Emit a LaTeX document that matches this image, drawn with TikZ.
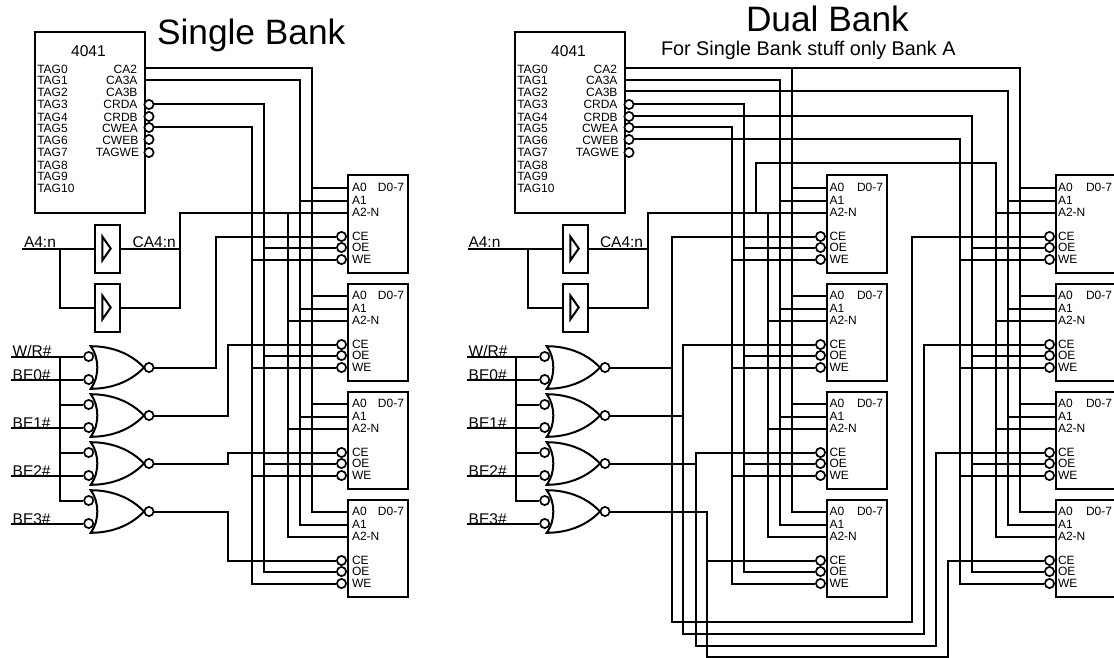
\documentclass[tikz,border=0pt]{standalone}
\usepackage{fontspec}
\setmainfont{Liberation Sans}
\usepackage{tikz}
\usetikzlibrary{positioning}

\begin{document}
\begin{tikzpicture}[x=1pt, y=-1pt, line width=2pt]
	\tikzstyle{Wire}	= [line width=2pt]
	\tikzstyle{Bubble}	= [circle, draw, fill=white, minimum size=9.2pt, inner sep=0pt, line width=1.7pt]
	\tikzstyle{Mem}		= [rectangle, draw, anchor=north west, minimum width=60pt, minimum height=97pt, inner sep=0pt, outer sep=0pt]
	\tikzstyle{Chip}	= [rectangle, draw, anchor=north west, minimum width=110pt, minimum height=180pt, inner sep=0pt, outer sep=0pt]
	\tikzstyle{Buf}		= [rectangle, draw, minimum width=25pt, minimum height=48pt, inner sep=0pt, outer sep=0pt]
	\tikzstyle{MemPin}	= [inner sep=0pt, font=\fontsize{12}{12}\selectfont]
	\tikzstyle{Signal}	= [inner sep=0pt, anchor=base west, font=\fontsize{15.5}{15.5}\selectfont]

	\useasboundingbox (0,0) rectangle (1114,658);

	\node (t-single) at (156,44.3) [inner sep=0pt, anchor=base west, font=\fontsize{35.3}{35.3}\selectfont] {Single Bank};
	\node (t-dual) at (745,31.7) [inner sep=0pt, anchor=base west, font=\fontsize{35.3}{35.3}\selectfont] {Dual Bank};
	\node (t-note) at (660,55.7) [inner sep=0pt, anchor=base west, font=\fontsize{19.8}{19.8}\selectfont] {For Single Bank stuff only Bank A};

	% memory banks
	\foreach \n/\mx/\my/\off in {sa/347.5/175.5/3.5, sb/347.5/283.5/3.5, sc/347.5/391.5/3.5, sd/347.5/499.5/3.5,
			da/826.5/175.5/2, db/826.5/283.5/2, dc/826.5/391.5/2, dd/826.5/499.5/2,
			ea/1055.5/175.5/1.5, eb/1055.5/283.5/1.5, ec/1055.5/391.5/1.5, ed/1055.5/499.5/1.5} {
		\node (\n) [Mem] at (\mx,\my) {};
		\foreach \s/\l/\o in {a0/A0/12, a1/A1/25, a2/A2-N/37} {
			\coordinate (\n-\s) at ([yshift=-\o pt]\n.north west);
			\node (\n-t\s) [MemPin, right=\off pt of \n-\s] {\l};
		}
		\foreach \s/\l/\o in {ce/CE/61, oe/OE/72, we/WE/84} {
			\coordinate (\n-p\s) at ([yshift=-\o pt]\n.north west);
			\node (\n-t\s) [MemPin, right=\off pt of \n-p\s] {\l};
			\node (\n-\s) [Bubble] at ([xshift=-6pt]\n-p\s) {};
		}
		\coordinate (\n-d7) at (\n.east |- \n-a0);
		\node (\n-td) [MemPin, left=2.5pt of \n-d7] {D0-7};
	}

	% tag chips
	\foreach \p/\px in {s/0, d/480} {
		\node (\p-chip) [Chip] at (34.5+\px,32.5) {};
		\node (\p-name) at (88.5+\px,56.5) [inner sep=0pt, anchor=base, font=\fontsize{15.6}{15.6}\selectfont] {4041};
		\foreach \a/\b in {0/73.3, 1/84.5, 2/96.3, 3/108.7, 4/121.3, 5/132.7, 6/144.3, 7/156.3, 8/169.3, 9/180.3, 10/192.3} {
			\node (\p-tag\a) at (36.3+\px,\b) [MemPin, anchor=base west] {TAG\a};
		}
		\foreach \s/\l/\b/\e in {ca2/CA2/73.3/138, ca3a/CA3A/84.5/138.5, ca3b/CA3B/96.3/138.5, crda/CRDA/108.7/138.5,
				crdb/CRDB/121.3/138.7, cwea/CWEA/132.7/139, cweb/CWEB/144.3/139.3, tagwe/TAGWE/156.3/140} {
			\node (\p-t\s) at (\e+\px,\b) [MemPin, anchor=base east] {\l};
		}
		\coordinate (\p-ca2) at (144.5+\px,68.5);
		\coordinate (\p-ca3a) at (144.5+\px,80.5);
		\coordinate (\p-ca3b) at (144.5+\px,91.5);
		\foreach \s/\b in {crda/104.5, crdb/116.5, cwea/127.5, cweb/139.5, tagwe/152.5} {
			\node (\p-\s) at (149+\px,\b) [Bubble] {};
		}
	}

	% buffers
	\foreach \p/\px in {s/0, d/468} {
		\node (\p-buf1) at (107+\px,248.5) [Buf] {};
		\node (\p-buf2) at (107+\px,307.5) [Buf] {};
		\foreach \b in {1,2} {
			\draw [Wire] ([xshift=-4.7pt,yshift=12pt]\p-buf\b.center) -- ([xshift=3.7pt]\p-buf\b.center) -- ([xshift=-4.7pt,yshift=-12pt]\p-buf\b.center) -- cycle;
		}
		\coordinate (\p-ajoin) at (59.5+\px,248.5);
		\coordinate (\p-q1) at (179.5+\px,248.5);
		\coordinate (\p-q2) at (179.5+\px,307.5);
	}
	\coordinate (s-a4) at (22,248.5);
	\coordinate (d-a4) at (467.5,248.5);
	\node (s-la4) at (23,247.5) [Signal] {A4:n};
	\node (d-la4) at (467.5,247.5) [Signal] {A4:n};
	\node (s-lca4) at (131.7,247.5) [Signal] {CA4:n};
	\node (d-lca4) at (599,247.5) [Signal] {CA4:n};

	% gates
	\foreach \p/\gx in {s/90.7, d/546.7} {
		\foreach \g/\gy in {1/367.5, 2/415.5, 3/463.5, 4/511.5} {
			\draw [Wire, fill=white, shift={(\gx,\gy)}] (0,-21.3) .. controls (24,-21.3) and (42,-12) .. (53.3,0)
				.. controls (42,12) and (24,21.3) .. (0,21.3) .. controls (8.8,10) and (8.8,-10) .. cycle;
			\node (\p\g-a) at (\gx-2,\gy-11) [Bubble] {};
			\node (\p\g-b) at (\gx-2,\gy+12) [Bubble] {};
			\node (\p\g-o) at (\gx+58.3,\gy) [Bubble] {};
		}
	}

	% inputs
	\foreach \p/\px in {s/0, d/456} {
		\coordinate (\p-wr) at (11+\px,356.5);
		\coordinate (\p-en) at (59.5+\px,356.5);
		\node (\p-lwr) at (11.7+\px,356) [Signal] {W/R\#};
		\foreach \g/\l/\b in {1/BE0/379.5, 2/BE1/427.5, 3/BE2/475.5, 4/BE3/523.5} {
			\coordinate (\p-be\g) at (11+\px,\b);
			\node (\p-lbe\g) at (11.7+\px,\b+0.5) [Signal] {\l\#};
			\draw [Wire] (\p-be\g) -- (\p\g-b);
		}
		\draw [Wire] (\p-wr) -- (\p1-a);
		\draw [Wire] (\p-en) |- (\p4-a);
		\draw [Wire] (\p-en |- \p2-a) -- (\p2-a);
		\draw [Wire] (\p-en |- \p3-a) -- (\p3-a);
	}
	\foreach \p in {s,d} {
		\draw [Wire] (\p-a4) -- (\p-buf1);
		\draw [Wire] (\p-ajoin) |- (\p-buf2);
	}

	% address and strobe buses
	\coordinate (s-x0) at (311.5,68.5);
	\coordinate (s-x1) at (299.5,80.5);
	\coordinate (s-x2) at (287.5,212.5);
	\coordinate (s-x3) at (263.5,104.5);
	\coordinate (s-x4) at (251.5,127.5);
	\coordinate (s-ca4) at (179.5,212.5);
	\coordinate (d-x0) at (791.5,68.5);
	\coordinate (d-x1) at (779.5,80.5);
	\coordinate (d-x2) at (767.5,212.5);
	\coordinate (d-x3) at (743.5,104.5);
	\coordinate (d-x4) at (731.5,127.5);
	\coordinate (d-ca4) at (647.5,212.5);
	\coordinate (d-up) at (755.5,212.5);
	\coordinate (d-up2) at (755.5,163.5);
	\coordinate (e-x0) at (1019.5,68.5);
	\coordinate (e-x1) at (1007.5,91.5);
	\coordinate (e-x2) at (995.5,163.5);
	\coordinate (e-x3) at (971.5,116.5);
	\coordinate (e-x4) at (959.5,139.5);

	\draw [Wire] (s-ca2) -- (s-x0) |- (sd-a0);
	\draw [Wire] (s-ca3a) -- (s-x1) |- (sd-a1);
	\draw [Wire] (s-crda) -- (s-x3) |- (sd-oe);
	\draw [Wire] (s-cwea) -- (s-x4) |- (sd-we);
	\draw [Wire] (s-x2) |- (sd-a2);
	\draw [Wire] (s-buf1) -- (s-q1);
	\draw [Wire] (s-buf2) -- (s-q2) -- (s-ca4) -- (sa-a2);

	\draw [Wire] (d-ca2) -- (e-x0) |- (ed-a0);
	\draw [Wire] (d-x0) |- (dd-a0);
	\draw [Wire] (d-ca3a) -- (d-x1) |- (dd-a1);
	\draw [Wire] (d-ca3b) -- (e-x1) |- (ed-a1);
	\draw [Wire] (d-crda) -- (d-x3) |- (dd-oe);
	\draw [Wire] (d-crdb) -- (e-x3) |- (ed-oe);
	\draw [Wire] (d-cwea) -- (d-x4) |- (dd-we);
	\draw [Wire] (d-cweb) -- (e-x4) |- (ed-we);
	\draw [Wire] (d-x2) |- (dd-a2);
	\draw [Wire] (d-up) -- (d-up2) -- (e-x2) |- (ed-a2);
	\draw [Wire] (d-buf1) -- (d-q1);
	\draw [Wire] (d-buf2) -- (d-q2) -- (d-ca4) -- (da-a2);

	% taps to the upper three chips of each bank
	\foreach \m in {s,d,e} {
		\foreach \r in {a,b,c} {
			\draw [Wire] (\m-x0 |- \m\r-a0) -- (\m\r-a0);
			\draw [Wire] (\m-x1 |- \m\r-a1) -- (\m\r-a1);
			\draw [Wire] (\m-x2 |- \m\r-a2) -- (\m\r-a2);
			\draw [Wire] (\m-x3 |- \m\r-oe) -- (\m\r-oe);
			\draw [Wire] (\m-x4 |- \m\r-we) -- (\m\r-we);
		}
	}

	% chip enables, single bank
	\coordinate (s-g1) at (215.5,367.5);
	\coordinate (s-g2) at (227.5,415.5);
	\coordinate (s-g3) at (227.5,463.5);
	\coordinate (s-g4) at (227.5,511.5);
	\draw [Wire] (s1-o) -- (s-g1) |- (sa-ce);
	\draw [Wire] (s2-o) -- (s-g2) |- (sb-ce);
	\draw [Wire] (s3-o) -- (s-g3) |- (sc-ce);
	\draw [Wire] (s4-o) -- (s-g4) |- (sd-ce);

	% chip enables, dual bank
	\coordinate (d-g1) at (671.5,367.5);
	\coordinate (d-g2) at (682.5,415.5);
	\coordinate (d-g3) at (695.5,463.5);
	\coordinate (d-g4) at (706.5,511.5);
	\coordinate (e-g1) at (911.5,621.5);
	\coordinate (e-g2) at (923.5,633.5);
	\coordinate (e-g3) at (935.5,645.5);
	\coordinate (e-g4) at (947.5,656.5);
	\draw [Wire] (d1-o) -- (d-g1) |- (da-ce);
	\draw [Wire] (d2-o) -- (d-g2) |- (db-ce);
	\draw [Wire] (d3-o) -- (d-g3) |- (dc-ce);
	\draw [Wire] (d4-o) -- (d-g4) |- (dd-ce);
	\draw [Wire] (d-g1) |- (e-g1) |- (ea-ce);
	\draw [Wire] (d-g2) |- (e-g2) |- (eb-ce);
	\draw [Wire] (d-g3) |- (e-g3) |- (ec-ce);
	\draw [Wire] (d-g4) |- (e-g4) |- (ed-ce);
\end{tikzpicture}
\end{document}
